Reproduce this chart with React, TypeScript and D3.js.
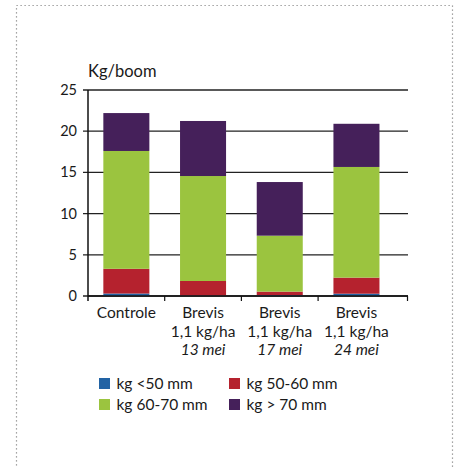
import React from "react";
import * as d3 from "d3";

const categories = ["Controle", "Brevis 13", "Brevis 17", "Brevis 24"];
const labelLine1 = ["Controle", "Brevis", "Brevis", "Brevis"];
const labelLine2 = ["", "1,1 kg/ha", "1,1 kg/ha", "1,1 kg/ha"];
const labelLine3 = ["", "13 mei", "17 mei", "24 mei"];
const seriesNames = ["kg <50 mm", "kg 50-60 mm", "kg 60-70 mm", "kg > 70 mm"];
const seriesColors = ["#2263a4", "#b5222e", "#9bc43f", "#45205a"];
const lt50 = [0.3, 0.05, 0.1, 0.28];
const s50_60 = [3.0, 1.77, 0.43, 1.95];
const s60_70 = [14.3, 12.74, 6.79, 13.43];
const gt70 = [4.6, 6.68, 6.51, 5.24];
const yTicks = [0, 5, 10, 15, 20, 25];

const FONT = "Lato, 'Open Sans', sans-serif";

export default function App() {
  const W = 459, H = 468;
  const x0 = 88, xEnd = 408;
  const x = d3.scaleBand<string>().domain(categories).range([x0, x0 + 4 * 76.7]).paddingInner(0.4).paddingOuter(0.2);
  const y = d3.scaleLinear().domain([0, 25]).range([296, 90]);

  const table = categories.map((c, i) => ({ cat: c, a: lt50[i], b: s50_60[i], c2: s60_70[i], d: gt70[i] }));
  const stack = d3.stack<any>().keys(["a", "b", "c2", "d"])(table);

  const bandStart = (i: number) => x0 + i * 76.7;

  return (
    <svg width={W} height={H} style={{ position: "absolute", left: 0, top: 0 }} fontFamily={FONT}>
      <rect x={16.5} y={5.5} width={436} height={480} fill="none" stroke="#888" strokeWidth={1.2} strokeDasharray="1.2 2.8" />
      <text x={88} y={77} fontSize={16.5} fill="#1a1a1a">Kg/boom</text>
      {yTicks.map((t) => (
        <g key={t}>
          <line x1={83} x2={xEnd} y1={y(t)} y2={y(t)} stroke="#222" strokeWidth={1.3} />
          <text x={77} y={y(t)} dy="0.35em" textAnchor="end" fontSize={14.5} fill="#1a1a1a">{t}</text>
        </g>
      ))}
      {stack.map((s, si) =>
        s.map((d, i) => (
          <rect key={si + "-" + i} x={x(categories[i])} width={x.bandwidth()} y={y(d[1])} height={y(d[0]) - y(d[1])} fill={seriesColors[si]} />
        ))
      )}
      <line x1={x0} x2={x0} y1={y(25)} y2={y(0) + 5} stroke="#111" strokeWidth={1.5} />
      <line x1={x0} x2={xEnd} y1={y(0)} y2={y(0)} stroke="#111" strokeWidth={1.5} />
      {[1, 2, 3].map((i) => (
        <line key={i} x1={bandStart(i)} x2={bandStart(i)} y1={y(0)} y2={y(0) + 5} stroke="#111" strokeWidth={1.2} />
      ))}
      <line x1={xEnd - 0.5} x2={xEnd - 0.5} y1={y(0)} y2={y(0) + 5} stroke="#111" strokeWidth={1.2} />
      {categories.map((c, i) => {
        const cx = (x(c) as number) + x.bandwidth() / 2;
        return (
          <g key={c} fontSize={15.5} fill="#1a1a1a" textAnchor="middle">
            <text x={cx} y={318}>{labelLine1[i]}</text>
            {labelLine2[i] && <text x={cx} y={336.5}>{labelLine2[i]}</text>}
            {labelLine3[i] && <text x={cx} y={355} fontStyle="italic">{labelLine3[i]}</text>}
          </g>
        );
      })}
      {seriesNames.map((n, i) => {
        const col = i % 2, row = Math.floor(i / 2);
        const lx = col === 0 ? 99 : 229;
        const ly = 378 + row * 21;
        return (
          <g key={n}>
            <rect x={lx} y={ly} width={11} height={11} fill={seriesColors[i]} />
            <text x={lx + 17.5} y={ly + 11} fontSize={15.5} fill="#1a1a1a">{n}</text>
          </g>
        );
      })}
    </svg>
  );
}
